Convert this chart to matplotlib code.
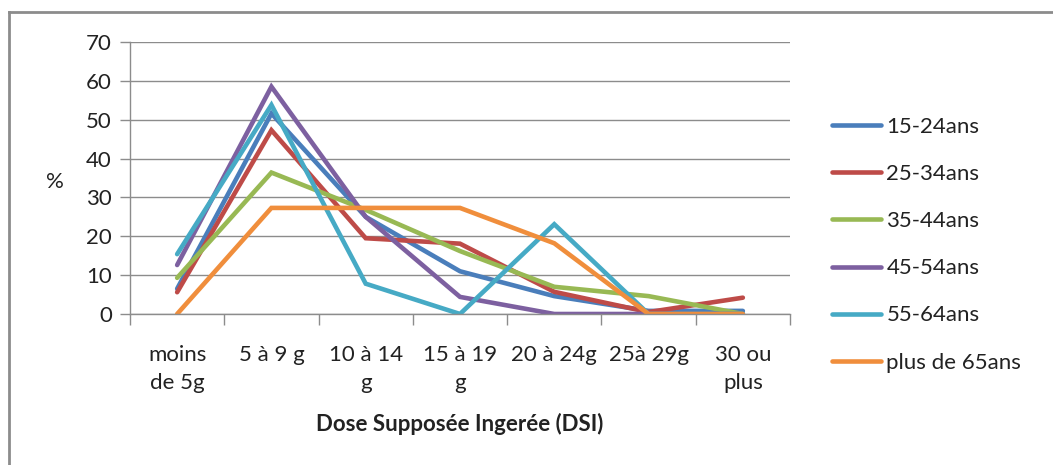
import matplotlib
matplotlib.use("Agg")
import matplotlib.pyplot as plt
from matplotlib.lines import Line2D

categories = ["moins\nde 5g", "5 à 9 g", "10 à 14\ng", "15 à 19\ng", "20 à 24g", "25à 29g", "30 ou\nplus"]
series_names = ["15-24ans", "25-34ans", "35-44ans", "45-54ans", "55-64ans", "plus de 65ans"]
v_15_24 = [6.5, 51.6, 25.0, 11.0, 4.6, 0.8, 0.8]
v_25_34 = [5.6, 47.3, 19.5, 18.1, 5.7, 0.5, 4.2]
v_35_44 = [9.3, 36.4, 26.8, 16.2, 7.0, 4.6, 0.0]
v_45_54 = [12.6, 58.5, 25.0, 4.4, 0.0, 0.0, 0.0]
v_55_64 = [15.4, 53.8, 7.8, 0.0, 23.1, 0.0, 0.0]
v_65_plus = [0.0, 27.3, 27.3, 27.3, 18.2, 0.0, 0.0]
yticks = [0, 10, 20, 30, 40, 50, 60, 70]

values = [v_15_24, v_25_34, v_35_44, v_45_54, v_55_64, v_65_plus]
colors = ["#4A7EBB", "#BE4B48", "#98B954", "#7D60A0", "#46AAC5", "#F08E3C"]

plt.rcParams['font.family'] = ['Lato', 'DejaVu Sans']

fig = plt.figure(figsize=(10.53, 4.65), dpi=100)
W, H = 1053, 465
ax = fig.add_axes([130 / W, 1 - 314 / H, 660 / W, 272 / H])

x = list(range(len(categories)))
for name, vals, c in zip(series_names, values, colors):
    ax.plot(x, vals, color=c, lw=3.3, label=name, solid_capstyle='round', solid_joinstyle='miter')

ax.set_xlim(-0.5, len(categories) - 0.5)
ax.set_ylim(0, 70)
ax.set_yticks(yticks)
ax.set_yticklabels([str(t) for t in yticks], fontsize=16, color="#222222")
ax.yaxis.grid(True, color="#8c8c8c", lw=1.0)
ax.set_axisbelow(True)

ax.set_xticks(x)
ax.set_xticklabels(categories, fontsize=16, color="#222222", linespacing=1.55, va='top')
ax.set_xticks([i - 0.5 for i in range(len(categories) + 1)], minor=True)
ax.tick_params(axis='x', which='major', length=0, pad=22)
ax.tick_params(axis='x', which='minor', length=8, color="#8c8c8c", width=1)
ax.tick_params(axis='y', length=7, color="#8c8c8c", width=1, pad=6)

for s in ["top", "right"]:
    ax.spines[s].set_visible(False)
for s in ["left", "bottom"]:
    ax.spines[s].set_color("#8c8c8c")
    ax.spines[s].set_linewidth(1.0)

ax.set_xlabel("Dose Supposée Ingerée (DSI)", fontsize=16, fontweight='bold', labelpad=14, color="#222222")
fig.text(55 / W, 1 - 182 / H, "%", fontsize=16, ha='center', va='center', color="#222222")

leg = ax.legend(loc='upper left', bbox_to_anchor=(812 / W, 1 - 97 / H), bbox_transform=fig.transFigure,
                frameon=False, fontsize=16, labelspacing=1.22, handlelength=2.2, handletextpad=0.25)
for t in leg.get_texts():
    t.set_color("#222222")

# outer chart border
fig.add_artist(Line2D([9 / W, 1.0], [1 - 12 / H, 1 - 12 / H], transform=fig.transFigure, color="#8c8c8c", lw=2))
fig.add_artist(Line2D([9 / W, 9 / W], [0, 1 - 12 / H], transform=fig.transFigure, color="#8c8c8c", lw=2))

fig.savefig("out.png", dpi=100)
